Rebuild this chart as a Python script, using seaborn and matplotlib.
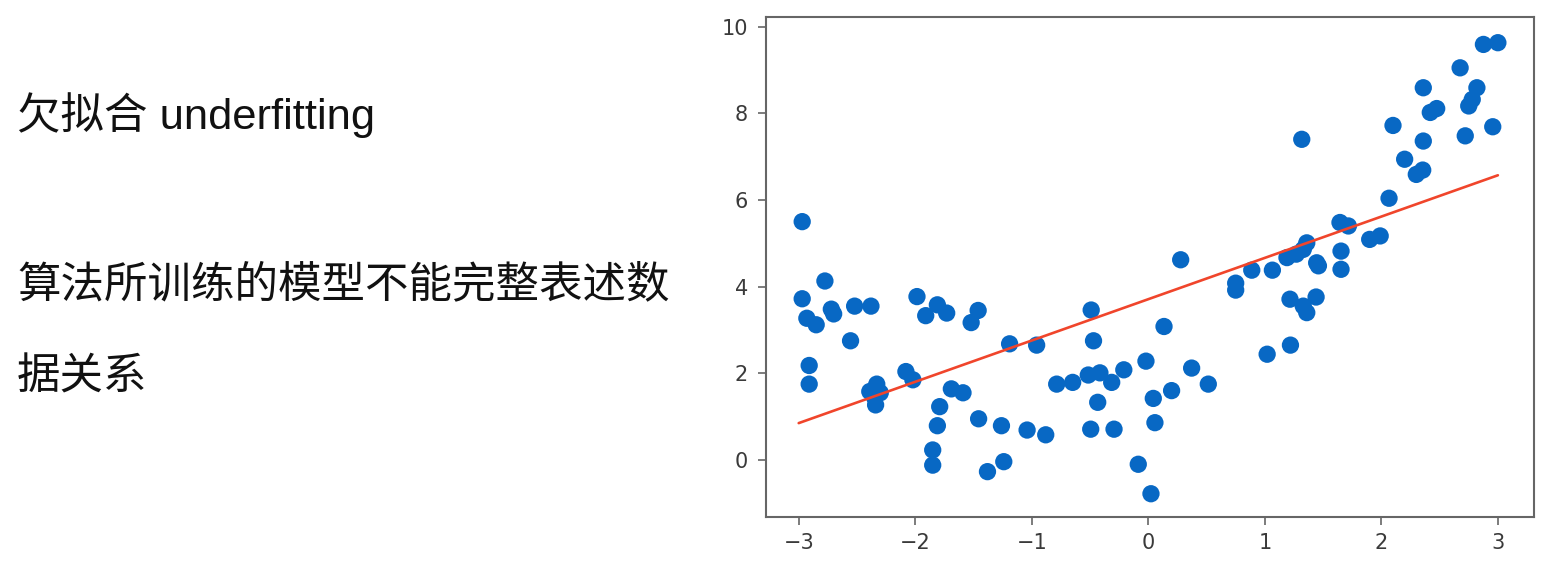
import matplotlib
matplotlib.use("Agg")
import matplotlib.pyplot as plt
import seaborn as sns
import pandas as pd

# ---- data ----
X_PTS = [-2.97, -2.775, -2.97, -2.93, -2.85, -2.72, -2.70, -2.52, -2.38, -2.555,
         -2.91, -2.91, -2.39, -2.33, -2.30, -2.34, -2.35, -2.08, -2.02, -1.985,
         -1.91, -1.81, -1.73, -1.79, -1.81, -1.85, -1.85, -1.69, -1.59, -1.52,
         -1.46, -1.456, -1.38, -1.26, -1.24, -1.19, -1.04, -0.958, -0.88, -0.786,
         -0.649, -0.515, -0.415, -0.314, -0.49, -0.47, -0.434, -0.494, -0.294, -0.21,
         -0.086, -0.02, 0.043, 0.057, 0.023, 0.135, 0.20, 0.278, 0.372, 0.515,
         0.75, 0.75, 0.888, 1.02, 1.065, 1.317, 1.216, 1.33, 1.36, 1.44,
         1.22, 1.19, 1.27, 1.33, 1.36, 1.445, 1.46, 1.654, 1.654, 1.645,
         1.717, 1.90, 1.99, 2.066, 2.20, 2.30, 2.355, 2.10, 2.36, 2.36,
         2.42, 2.475, 2.676, 2.72, 2.75, 2.78, 2.82, 2.876, 3.0, 2.956]
Y_PTS = [5.50, 4.13, 3.72, 3.27, 3.12, 3.48, 3.37, 3.55, 3.55, 2.75,
         2.18, 1.75, 1.58, 1.75, 1.55, 1.27, 1.45, 2.04, 1.85, 3.77,
         3.33, 3.58, 3.39, 1.23, 0.79, 0.23, -0.12, 1.64, 1.55, 3.17,
         3.45, 0.95, -0.27, 0.79, -0.04, 2.68, 0.69, 2.65, 0.58, 1.75,
         1.79, 1.96, 2.01, 1.79, 3.46, 2.75, 1.33, 0.71, 0.71, 2.08,
         -0.10, 2.28, 1.42, 0.86, -0.78, 3.08, 1.60, 4.62, 2.12, 1.75,
         4.08, 3.92, 4.38, 2.44, 4.38, 7.40, 3.71, 3.55, 3.40, 3.76,
         2.65, 4.67, 4.75, 4.86, 5.01, 4.55, 4.48, 4.82, 4.40, 5.48,
         5.40, 5.09, 5.17, 6.04, 6.94, 6.59, 6.69, 7.72, 7.36, 8.59,
         8.02, 8.11, 9.05, 7.48, 8.17, 8.32, 8.59, 9.59, 9.63, 7.69]
LINE_X = [-3.0, 3.0]
LINE_Y = [0.85, 6.57]
X_TICKS = [-3, -2, -1, 0, 1, 2, 3]
Y_TICKS = [0, 2, 4, 6, 8, 10]
TITLE_TEXT = "欠拟合 underfitting"
DESC_LINE1 = "算法所训练的模型不能完整表述数"
DESC_LINE2 = "据关系"

sns.set_style("ticks")
plt.rcParams['font.family'] = ['DejaVu Sans', 'Noto Sans CJK SC']

fig = plt.figure(figsize=(15.52, 5.66), dpi=100)
fig.patch.set_facecolor("white")
ax = fig.add_axes([0.4936, 0.0871, 0.4948, 0.8834])

pts = pd.DataFrame({"x": X_PTS, "y": Y_PTS})
line = pd.DataFrame({"x": LINE_X, "y": LINE_Y})

sns.scatterplot(data=pts, x="x", y="y", ax=ax, color="#0868c4", s=155,
                edgecolor="none", linewidth=0, zorder=2)
sns.lineplot(data=line, x="x", y="y", ax=ax, color="#f0452b", linewidth=1.9,
             zorder=3)

ax.set_xlim(-3.28, 3.31)
ax.set_ylim(-1.31, 10.23)
ax.set_xticks(X_TICKS)
ax.set_yticks(Y_TICKS)
ax.set_xticklabels([("\u2212" + str(abs(t))) if t < 0 else str(t) for t in X_TICKS])
ax.set_xlabel("")
ax.set_ylabel("")
ax.tick_params(axis="both", direction="out", length=6, width=1.2,
               color="#666666", labelsize=15, labelcolor="#3a3a3a")
ax.tick_params(axis="x", pad=6)
ax.tick_params(axis="y", pad=7)
for sp in ax.spines.values():
    sp.set_visible(True)
    sp.set_color("#666666")
    sp.set_linewidth(1.5)
ax.set_facecolor("white")
ax.grid(False)

txt_kw = dict(family=['Liberation Sans', 'Noto Sans CJK SC'], fontsize=31.3,
              color="#111111", ha="left", va="baseline")
fig.text(17 / 1552, 1 - 129 / 566, TITLE_TEXT, **txt_kw)
fig.text(17 / 1552, 1 - 297 / 566, DESC_LINE1, **txt_kw)
fig.text(17 / 1552, 1 - 390 / 566, DESC_LINE2, **txt_kw)

fig.savefig("out.png", dpi=100, facecolor="white")
